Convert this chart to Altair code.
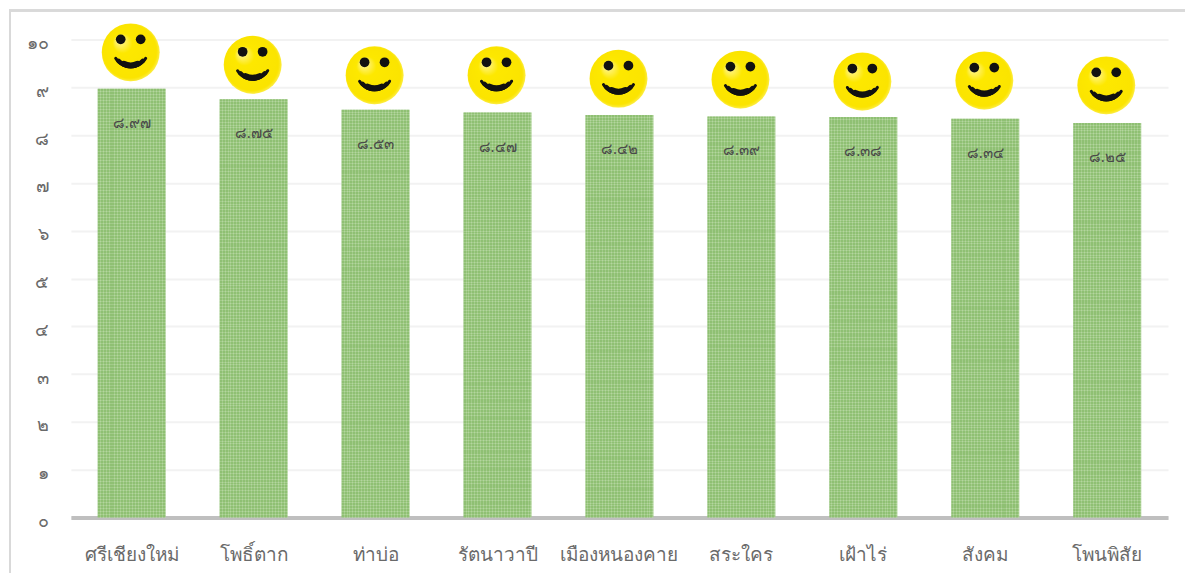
import altair as alt
import pandas as pd

categories = ["ศรีเชียงใหม่", "โพธิ์ตาก", "ท่าบ่อ", "รัตนาวาปี", "เมืองหนองคาย", "สระใคร", "เฝ้าไร่", "สังคม", "โพนพิสัย"]
values = [8.97, 8.75, 8.53, 8.47, 8.42, 8.39, 8.38, 8.34, 8.25]
labels = ["๘.๙๗", "๘.๗๕", "๘.๕๓", "๘.๔๗", "๘.๔๒", "๘.๓๙", "๘.๓๘", "๘.๓๔", "๘.๒๕"]
smiley_y = [9.73, 9.47, 9.25, 9.25, 9.18, 9.16, 9.12, 9.14, 9.04]
tick_values = list(range(0, 11))

THAI = "Noto Sans, DejaVu Sans, sans-serif"
df = pd.DataFrame({"c": categories, "v": values, "l": labels, "s": smiley_y})
label_expr = "{0:'๐',1:'๑',2:'๒',3:'๓',4:'๔',5:'๕',6:'๖',7:'๗',8:'๘',9:'๙',10:'๑๐'}[datum.value]"

x_scale = alt.Scale(paddingInner=0.443, paddingOuter=0.22)
y_scale = alt.Scale(domain=[0, 10], nice=False)
x = alt.X("c:N", sort=categories, title=None, scale=x_scale,
          axis=alt.Axis(labelFontSize=19, labelColor="#6A6A6A", labelFont=THAI, labelAngle=0, ticks=False,
                        domainColor="#BFBFBF", domainWidth=4, labelPadding=28, labelLimit=200))
y_axis = alt.Axis(values=tick_values, labelExpr=label_expr, labelFontSize=18, labelColor="#6A6A6A", labelOffset=4,
                  labelFont=THAI, domain=False, ticks=False, gridColor="#F2F2F2", gridWidth=2, labelPadding=22)
y = alt.Y("v:Q", title=None, scale=y_scale, axis=y_axis)
sy = alt.Y("s:Q", title=None, scale=y_scale, axis=y_axis)


def stripes(period, n, x2=1, y2=0):
    stops = []
    for i in range(n):
        stops.append(alt.GradientStop(offset=i / n, color="#8FC073"))
        stops.append(alt.GradientStop(offset=(i + 2 / period) / n, color="#8FC073"))
        stops.append(alt.GradientStop(offset=(i + 2 / period) / n, color="#B4D69F"))
        stops.append(alt.GradientStop(offset=(i + 1) / n, color="#B4D69F"))
    return alt.LinearGradient(gradient="linear", stops=stops, x1=0, x2=x2, y1=0, y2=y2)


bars_v = alt.Chart(df).mark_bar(fill=stripes(3, 23)).encode(x=x, y=y)
bars_h = alt.Chart(df).mark_bar(fill=stripes(3, 143, 0, 1), opacity=0.5).encode(x=x, y=y)
text = alt.Chart(df).mark_text(fontSize=15, color="#4A4A4A", font=THAI, yOffset=34).encode(x=x, y=y, text="l:N")

face_fill = alt.RadialGradient(gradient="radial", x1=0.3, y1=0.28, r1=0.02, x2=0.5, y2=0.5, r2=0.52, stops=[
    alt.GradientStop(offset=0, color="#FFF6A0"),
    alt.GradientStop(offset=0.3, color="#FDE800"),
    alt.GradientStop(offset=0.9, color="#FBE400"),
    alt.GradientStop(offset=1, color="#FDF060"),
])
face = alt.Chart(df).mark_point(size=3364, filled=True, fill=face_fill, opacity=1, shape="circle", stroke=None, xOffset=-1).encode(x=x, y=sy)
eye_l = alt.Chart(df).mark_circle(size=95, color="#111111", opacity=1, xOffset=-11, yOffset=-13).encode(x=x, y=sy)
eye_r = alt.Chart(df).mark_circle(size=95, color="#111111", opacity=1, xOffset=9, yOffset=-13).encode(x=x, y=sy)
smile_thin = alt.Chart(df).mark_arc(color="#111111", radius=19, radius2=16, theta=2.02, theta2=4.26, cornerRadius=1.5, yOffset=-3, xOffset=-1).encode(x=x, y=sy)
smile_mid = alt.Chart(df).mark_arc(color="#111111", radius=19, radius2=14.5, theta=2.2, theta2=4.08, cornerRadius=2, yOffset=-3, xOffset=-1).encode(x=x, y=sy)
smile_thick = alt.Chart(df).mark_arc(color="#111111", radius=19, radius2=13, theta=2.5, theta2=3.78, cornerRadius=3, yOffset=-3, xOffset=-1).encode(x=x, y=sy)

frame_top = alt.Chart(df).mark_rule(color="#D9D9D9", strokeWidth=2).encode(
    x=alt.value(-62), x2=alt.value(1116), y=alt.value(-29))
frame_left = alt.Chart(df).mark_rule(color="#D9D9D9", strokeWidth=2).encode(
    x=alt.value(-61), y=alt.value(-29), y2=alt.value(534))

chart = alt.layer(frame_top, frame_left, bars_v, bars_h, text, face, eye_l, eye_r, smile_thin, smile_mid, smile_thick).properties(
    width=1099, height=479, padding={"left": 0, "top": 1, "right": 0, "bottom": 0}
).configure_view(stroke=None)
chart.save("out.html", embed_options={"renderer": "svg", "actions": False})
